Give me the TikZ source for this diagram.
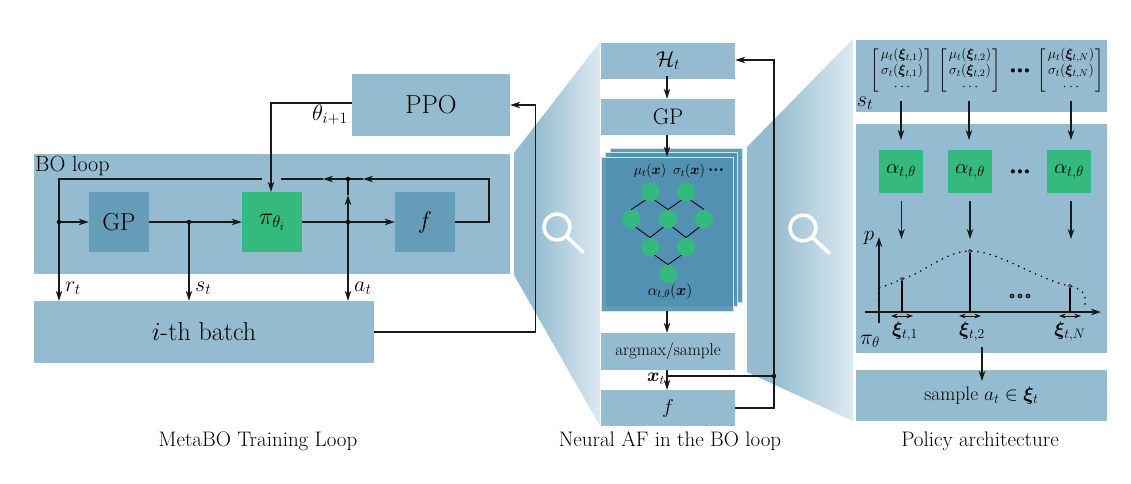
\documentclass[tikz,border=0pt]{standalone}
\usepackage{fix-cm}
\usepackage{amsmath,bm}
\usetikzlibrary{arrows.meta,calc}
\definecolor{boxc}{HTML}{94BBCF}
\definecolor{darkc}{HTML}{659DB9}
\definecolor{greenc}{HTML}{34B97E}
\definecolor{stackc}{HTML}{5291B1}
\definecolor{lightc}{HTML}{DCEAF1}
\pgfdeclarehorizontalshading{magshade}{100bp}{color(0bp)=(boxc); color(25bp)=(boxc); color(36bp)=(boxc); color(75bp)=(lightc); color(100bp)=(lightc)}
\newcommand{\fs}[1]{\fontsize{#1}{#1}\selectfont}
\newcommand{\bdots}{$\mkern1mu{\bullet}\mkern3mu{\bullet}\mkern3mu{\bullet}\mkern1mu$}
\tikzset{
  x=1pt,y=-1pt,
  >={Stealth[length=10pt,width=6.5pt,inset=3pt]},
  blue box/.style={fill=boxc,inner sep=0pt,text=black},
  dark box/.style={fill=darkc,inner sep=0pt,minimum width=60pt,minimum height=60pt},
  green box/.style={fill=greenc,inner sep=0pt},
  wire/.style={draw=black!90,line width=1.05pt},
  thinwire/.style={draw=black!90,line width=0.9pt},
  junction/.style={circle,fill=black,inner sep=0pt,minimum size=4.5pt},
  stack/.style={fill=stackc,fill opacity=0.9,draw=white!75!stackc,line width=0.8pt,inner sep=0pt,minimum width=132pt,minimum height=154pt},
  neuron/.style={circle,fill=greenc,inner sep=0pt,minimum size=18.5pt},
  edge/.style={draw=black,line width=0.8pt},
  lab/.style={inner sep=0pt,text=black},
  loupe/.style={draw=white,line width=3.6pt,line cap=round},
  stem/.style={draw=black,line width=1.6pt},
  smalltip/.style={{Stealth[length=6.5pt,width=4.5pt,inset=1.8pt]}-{Stealth[length=6.5pt,width=4.5pt,inset=1.8pt]}},
  knot/.style={circle,draw=black,line width=0.6pt,inner sep=0pt,minimum size=3pt},
  ring/.style={circle,draw=black,fill=black!50!boxc,line width=0.6pt,inner sep=0pt,minimum size=4pt},
}
\begin{document}
\begin{tikzpicture}
\useasboundingbox (0,0) rectangle (1131,483);
% magnifying cones
\path[shading=magshade] (514,153) -- (600,42) -- (600,426) -- (514,275) -- cycle;
\path[shading=magshade] (747,147) -- (853,39) -- (853,421) -- (747,372) -- cycle;
% left panel
\node[blue box,minimum width=158pt,minimum height=62pt,font=\fs{26}] (ppo) at (431,105) {PPO};
\node[blue box,minimum width=476pt,minimum height=120pt] (bo) at (272,214) {};
\node[lab,anchor=west,font=\fs{22}] (bolabel) at (35,166) {BO loop};
\node[dark box,font=\fs{24.5}] (gp) at (119,222) {GP};
\node[green box,minimum width=60pt,minimum height=60pt,font=\fs{24}] (pi) at (272,222) {$\pi_{\theta_i}$};
\node[dark box,font=\fs{24}] (f) at (425,222) {$f$};
\node[blue box,minimum width=340pt,minimum height=62pt,font=\fs{26}] (batch) at (204,332) {$i$-th batch};
\coordinate (trx) at (489,179);
\coordinate (gapr) at (281,179);
\coordinate (gapl) at (262,179);
\coordinate (tl) at (59,179);
\node[junction] (dl) at (59,222) {};
\node[junction] (ds) at (189,222) {};
\node[junction] (da) at (348,222) {};
\node[junction] (dt) at (348,179) {};
\coordinate (h2) at (363,179);
\coordinate (h1) at (323,179);
\coordinate (up) at (348,195);
\draw[wire,->] (f.east) -- (f.east -| trx) -- (trx) -- (h2);
\draw[wire] (h2) -- (dt);
\draw[wire,->] (dt) -- (h1);
\draw[wire] (h1) -- (gapr);
\draw[wire] (gapl) -- (tl) -- (dl);
\draw[wire,->] (dl) -- (gp.west);
\draw[wire,->] (dl) -- (dl |- batch.north);
\draw[wire,->] (gp.east) -- (pi.west);
\draw[wire,->] (ds) -- (ds |- batch.north);
\draw[wire,->] (pi.east) -- (f.west);
\draw[wire,->] (da) -- (da |- batch.north);
\draw[wire,->] (da) -- (up);
\draw[wire] (up) -- (dt);
\draw[wire,->] ([yshift=2pt]ppo.west) -| ([xshift=-1pt]pi.north);
\node[lab,font=\fs{22.5}] (theta) at (330,115) {$\theta_{i+1}$};
\node[lab,font=\fs{22},anchor=west] (rt) at (65,288) {$r_t$};
\node[lab,font=\fs{22},anchor=west] (st) at (195,288) {$s_t$};
\node[lab,font=\fs{22},anchor=west] (at) at (354,288) {$a_t$};
% centre column
\node[blue box,minimum width=134pt,minimum height=36pt,font=\fs{21.5}] (ht) at (668,61) {$\mathcal{H}_t$};
\node[blue box,minimum width=134pt,minimum height=36pt,font=\fs{22.5}] (cgp) at (668,117) {GP};
\node[stack] (s3) at (676,225) {};
\node[stack] (s2) at (671.5,229) {};
\node[stack] (s1) at (667,234) {};
\node[blue box,minimum width=134pt,minimum height=37pt,font=\fs{17}] (arg) at (668,351.5) {argmax/sample};
\node[blue box,minimum width=134pt,minimum height=36pt,font=\fs{20}] (cf) at (668,408) {$f$};
\foreach \n/\x/\y in {a1/650/192,a2/686/192,b1/631/219,b2/668/219,b3/704/219,c1/650/247,c2/686/247,d1/668/274}
  \node[neuron] (\n) at (\x,\y) {};
\foreach \p/\q in {a1.-120/b1.north,a1.-60/b2.north,a2.-120/b2.north,a2.-60/b3.north,b1.-60/c1.north,b2.-120/c1.north,b2.-60/c2.north,b3.-120/c2.north,c1.-60/d1.north,c2.-120/d1.north}
  \draw[edge] (\p) -- (\q);
\node[lab,font=\fs{14}] (mu) at (650,171) {$\mu_t(\bm{x})$};
\node[lab,font=\fs{14}] (sig) at (689,171) {$\sigma_t(\bm{x})$};
\node[lab,font=\fs{5.5}] (cd) at (716,170) {\bdots};
\node[lab,font=\fs{15.5}] (al) at (670,292) {$\alpha_{t,\theta}(\bm{x})$};
\draw[wire,->] ([xshift=-1pt,yshift=3pt]ht.south) -- ([xshift=-1pt]cgp.north);
\draw[wire,->] ([xshift=-1pt]cgp.south) -- (s1.north);
\draw[wire,->] (s1.south) -- (s1.south |- arg.north);
\draw[wire,->] (s1.south |- arg.south) -- (s1.south |- cf.north);
\node[junction] (dx) at (774,376) {};
\draw[wire] (s1.south |- dx) -- (dx);
\coordinate (rx) at (774,60);
\draw[wire,->] (cf.east) -- (cf.east -| dx) -- (rx) -- (rx -| ht.east);
\coordinate (bx) at (535.5,332);
\coordinate (bt) at (535.5,105);
\draw[wire,->] (batch.east) -- (bx) -- (bt) -- (ppo.east);
\node[lab,font=\fs{19},anchor=east] (xt) at (665,379) {$\bm{x}_t$};
% magnifiers
\coordinate (m1) at (557,227); \coordinate (m1h) at (583,252);
\draw[loupe] (m1) circle (13) ($(m1)+(9.5,9.5)$) -- (m1h);
\coordinate (m2) at (803,228); \coordinate (m2h) at (829,253);
\draw[loupe] (m2) circle (13) ($(m2)+(9.5,9.5)$) -- (m2h);
% right panel
\node[blue box,minimum width=251pt,minimum height=72pt] (sbox) at (981.5,76) {};
\node[blue box,minimum width=251pt,minimum height=229pt] (pol) at (981.5,238.5) {};
\node[blue box,minimum width=251pt,minimum height=51pt,font=\fs{19.5}] (samp) at (981.5,395.5) {sample $a_t\in\bm{\xi}_t$};
\renewcommand{\arraystretch}{1.14}
\node[lab,font=\fs{14}] (m1x) at (902,71) {$\left[\begin{array}{@{\mkern2mu}c@{\mkern2mu}}\mu_t(\bm{\xi}_{t,1})\\ \sigma_t(\bm{\xi}_{t,1})\\ \cdots\end{array}\right]$};
\node[lab,font=\fs{14}] (m2x) at (970,71) {$\left[\begin{array}{@{\mkern2mu}c@{\mkern2mu}}\mu_t(\bm{\xi}_{t,2})\\ \sigma_t(\bm{\xi}_{t,2})\\ \cdots\end{array}\right]$};
\node[lab,font=\fs{14}] (m3x) at (1071,71) {$\left[\begin{array}{@{\mkern2mu}c@{\mkern2mu}}\mu_t(\bm{\xi}_{t,N})\\ \sigma_t(\bm{\xi}_{t,N})\\ \cdots\end{array}\right]$};
\node[lab,font=\fs{10.5}] (mdots) at (1020,71) {\bdots};
\node[lab,font=\fs{22}] (stl) at (865,103) {$s_t$};
\node[green box,minimum width=44pt,minimum height=43pt,font=\fs{21}] (a1x) at (901,171.5) {$\alpha_{t,\theta}$};
\node[green box,minimum width=44pt,minimum height=43pt,font=\fs{21}] (a2x) at (970,171.5) {$\alpha_{t,\theta}$};
\node[green box,minimum width=44pt,minimum height=43pt,font=\fs{21}] (a3x) at (1069,171.5) {$\alpha_{t,\theta}$};
\node[lab,font=\fs{10.5}] (adots) at (1020,172) {\bdots};
\foreach \x/\l in {901/a,969/b,1071/c}{
  \coordinate (tm\l) at (\x,101);
  \coordinate (em\l) at (\x,140);
  \draw[wire,->] (tm\l) -- (em\l);
}
\foreach \x/\l in {901.5/a,970/b,1071/c}{
  \coordinate (tp\l) at (\x,201);
  \coordinate (ep\l) at (\x,239);
  \draw[wire,->] (tp\l) -- (ep\l);
}
% density plot
\coordinate (ax0) at (879,323); \coordinate (ax1) at (879,237);
\coordinate (ay0) at (865,312); \coordinate (ay1) at (1101,312);
\draw[wire,line width=1.3pt,->] (ax0) -- (ax1);
\draw[wire,line width=1.3pt,->] (ay0) -- (ay1);
\node[lab,font=\fs{21}] (pl) at (869,238) {$p$};
\node[lab,font=\fs{21.5}] (pil) at (870,341) {$\pi_\theta$};
\coordinate (c0) at (879,312);
\coordinate (c1) at (879,288);
\node[knot] (k1) at (902,279) {};
\node[knot] (k2) at (970,251) {};
\node[knot] (k3) at (1070,286) {};
\draw[black,line width=1.8pt,line cap=round,dash pattern=on 0pt off 6.2pt] (c0) -- (c1) .. controls (888,285) and (893,283) .. (k1) .. controls (925,272) and (945,252) .. (k2) .. controls (1000,252) and (1035,278) .. (k3) .. controls (1078,288) and (1085,292) .. (1085,297) -- (1085,310);
\draw[stem] (k1) -- (k1 |- ay0);
\draw[stem] (k2) -- (k2 |- ay0);
\draw[stem] (k3) -- (k3 |- ay0);
\foreach \n/\x in {o1/1012,o2/1020,o3/1028}
  \node[ring] (\n) at (\x,296) {};
\foreach \x/\l in {902/a,970/b,1070/c}{
  \coordinate (\l L) at (\x-11,316);
  \coordinate (\l R) at (\x+11,316);
  \draw[thinwire,smalltip] (\l L) -- (\l R);
}
\node[lab,font=\fs{19.5}] (xi1) at (905,332) {$\bm{\xi}_{t,1}$};
\node[lab,font=\fs{19.5}] (xi2) at (972,332) {$\bm{\xi}_{t,2}$};
\node[lab,font=\fs{19.5}] (xi3) at (1070,332) {$\bm{\xi}_{t,N}$};
\coordinate (pt) at (982,347);
\coordinate (pb) at (982,381);
\draw[wire,->] (pt) -- (pb);
% captions
\node[lab,font=\fs{21}] (cap1) at (258,441) {MetaBO Training Loop};
\node[lab,font=\fs{21}] (cap2) at (670,441) {Neural AF in the BO loop};
\node[lab,font=\fs{21}] (cap3) at (980,441) {Policy architecture};
\end{tikzpicture}
\end{document}
